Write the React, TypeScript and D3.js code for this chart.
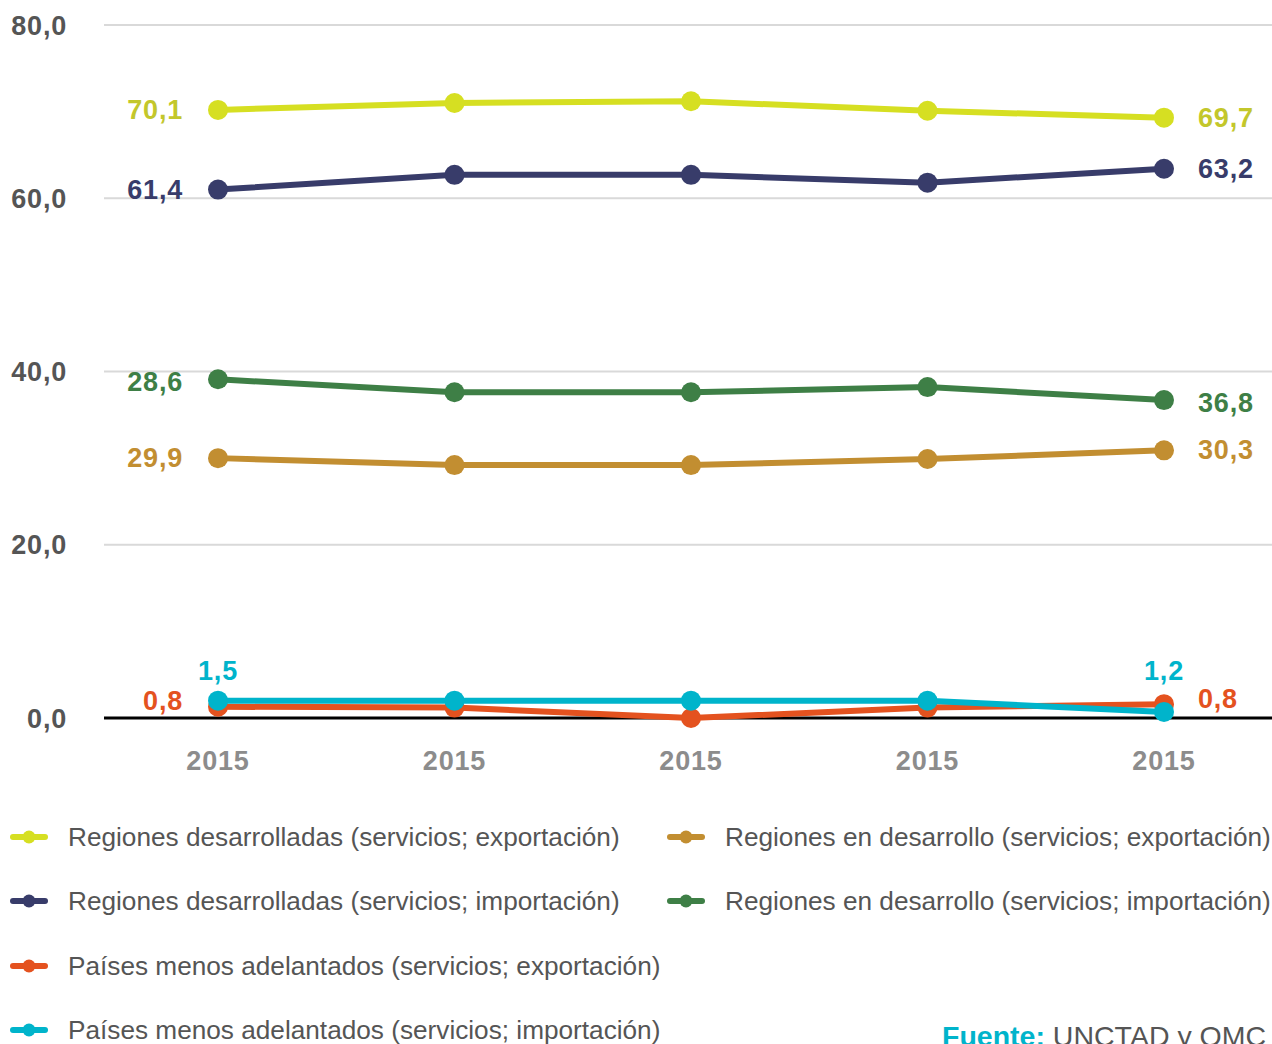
import React from "react";
import * as d3 from "d3";

const years = ["2015", "2015", "2015", "2015", "2015"];
const yTicks = [0, 20, 40, 60, 80];

const devExport = [70.2, 71.0, 71.2, 70.1, 69.3];
const devImport = [61.0, 62.7, 62.7, 61.8, 63.4];
const dingImport = [39.1, 37.6, 37.6, 38.2, 36.7];
const dingExport = [30.0, 29.2, 29.2, 29.9, 30.9];
const ldcExport = [1.3, 1.2, 0.0, 1.2, 1.6];
const ldcImport = [2.0, 2.0, 2.0, 2.0, 0.7];

const seriesNames = [
  "Regiones desarrolladas (servicios; exportación)",
  "Regiones en desarrollo (servicios; exportación)",
  "Regiones desarrolladas (servicios; importación)",
  "Regiones en desarrollo (servicios; importación)",
  "Países menos adelantados (servicios; exportación)",
  "Países menos adelantados (servicios; importación)",
];

// label texts: [left label, right label]
const devExportLabels = ["70,1", "69,7"];
const devImportLabels = ["61,4", "63,2"];
const dingImportLabels = ["28,6", "36,8"];
const dingExportLabels = ["29,9", "30,3"];
const ldcExportLabels = ["0,8", "0,8"];
const ldcImportLabels = ["1,5", "1,2"];

type S = {
  name: string;
  values: number[];
  color: string;
  labelColor: string;
  labels: string[];
  labelMode: "side" | "above";
  labelDy: number;
};

const series: S[] = [
  { name: seriesNames[0], values: devExport, color: "#d6df22", labelColor: "#c3c72b", labels: devExportLabels, labelMode: "side", labelDy: 0 },
  { name: seriesNames[2], values: devImport, color: "#383c6a", labelColor: "#383c6a", labels: devImportLabels, labelMode: "side", labelDy: 0 },
  { name: seriesNames[3], values: dingImport, color: "#3e7f46", labelColor: "#3e7f46", labels: dingImportLabels, labelMode: "side", labelDy: 2 },
  { name: seriesNames[1], values: dingExport, color: "#c28e31", labelColor: "#c28e31", labels: dingExportLabels, labelMode: "side", labelDy: -1 },
  { name: seriesNames[4], values: ldcExport, color: "#e4521f", labelColor: "#e4521f", labels: ldcExportLabels, labelMode: "side", labelDy: -6 },
  { name: seriesNames[5], values: ldcImport, color: "#00b4cb", labelColor: "#00b4cb", labels: ldcImportLabels, labelMode: "above", labelDy: -30 },
];

export default function App() {
  const W = 1272;
  const H = 1044;
  const x = d3.scalePoint<number>().domain(years.map((_, i) => i)).range([218, 1164]);
  const y = d3.scaleLinear().domain([0, 80]).range([718, 25]);
  const line = d3
    .line<number>()
    .x((_, i) => x(i) as number)
    .y((d) => y(d));

  const fontFam = "'Liberation Sans', Arial, Helvetica, sans-serif";
  const boldStyle = { fontFamily: fontFam, fontWeight: 700, fontSize: 27, letterSpacing: 0.8 } as const;

  const legendItems = seriesNames.map((name) => {
    const s = series.find((ss) => ss.name === name)!;
    return { name, color: s.color };
  });
  const legendPos = [
    { x: 10, y: 837 },
    { x: 667, y: 837 },
    { x: 10, y: 901 },
    { x: 667, y: 901 },
    { x: 10, y: 966 },
    { x: 10, y: 1030 },
  ];

  return (
    <svg
      width={W}
      height={H}
      style={{ position: "absolute", left: 0, top: 0, background: "#fff" }}
    >
      {/* grid */}
      {yTicks.map((t) => (
        <g key={t}>
          <line
            x1={104}
            x2={1272}
            y1={y(t)}
            y2={y(t)}
            stroke={t === 0 ? "#000" : "#d9d9d9"}
            strokeWidth={t === 0 ? 3 : 2}
          />
          <text x={67} y={y(t) + 9.5} textAnchor="end" fill="#555" style={boldStyle}>
            {d3.format(".1f")(t).replace(".", ",")}
          </text>
        </g>
      ))}
      {/* x labels */}
      {years.map((yr, i) => (
        <text key={i} x={x(i)} y={770} textAnchor="middle" fill="#8c8c8c" style={boldStyle}>
          {yr}
        </text>
      ))}
      {/* series */}
      {series.map((s) => (
        <g key={s.name}>
          <path d={line(s.values) || ""} fill="none" stroke={s.color} strokeWidth={6} strokeLinejoin="round" />
          {s.values.map((v, i) => (
            <circle key={i} cx={x(i)} cy={y(v)} r={10} fill={s.color} />
          ))}
        </g>
      ))}
      {/* labels */}
      {series.map((s) => {
        const n = s.values.length - 1;
        if (s.labelMode === "side") {
          return (
            <g key={s.name + "l"}>
              <text x={(x(0) as number) - 35} y={y(s.values[0]) + s.labelDy + 9.5} textAnchor="end" fill={s.labelColor} style={boldStyle}>
                {s.labels[0]}
              </text>
              <text x={(x(n) as number) + 34} y={y(s.values[n]) + s.labelDy + 9.5} textAnchor="start" fill={s.labelColor} style={boldStyle}>
                {s.labels[1]}
              </text>
            </g>
          );
        }
        return (
          <g key={s.name + "l"}>
            <text x={x(0)} y={y(s.values[0]) + s.labelDy + 9.5} textAnchor="middle" fill={s.labelColor} style={boldStyle}>
              {s.labels[0]}
            </text>
            <text x={x(n)} y={y(s.values[0]) + s.labelDy + 9.5} textAnchor="middle" fill={s.labelColor} style={boldStyle}>
              {s.labels[1]}
            </text>
          </g>
        );
      })}
      {/* legend */}
      {legendItems.map((it, i) => {
        const p = legendPos[i];
        return (
          <g key={it.name} transform={`translate(${p.x},${p.y})`}>
            <line x1={3} x2={35} y1={0} y2={0} stroke={it.color} strokeWidth={6} strokeLinecap="round" />
            <circle cx={19} cy={0} r={6.5} fill={it.color} />
            <text x={58} y={9} fill="#555" style={{ fontFamily: fontFam, fontSize: 26.2 }}>
              {it.name}
            </text>
          </g>
        );
      })}
      {/* source */}
      <text x={942} y={1046} style={{ fontFamily: fontFam, fontSize: 28.5 }}>
        <tspan fill="#00b4cb" fontWeight={700}>Fuente:</tspan>
        <tspan fill="#555"> UNCTAD y OMC</tspan>
      </text>
    </svg>
  );
}
